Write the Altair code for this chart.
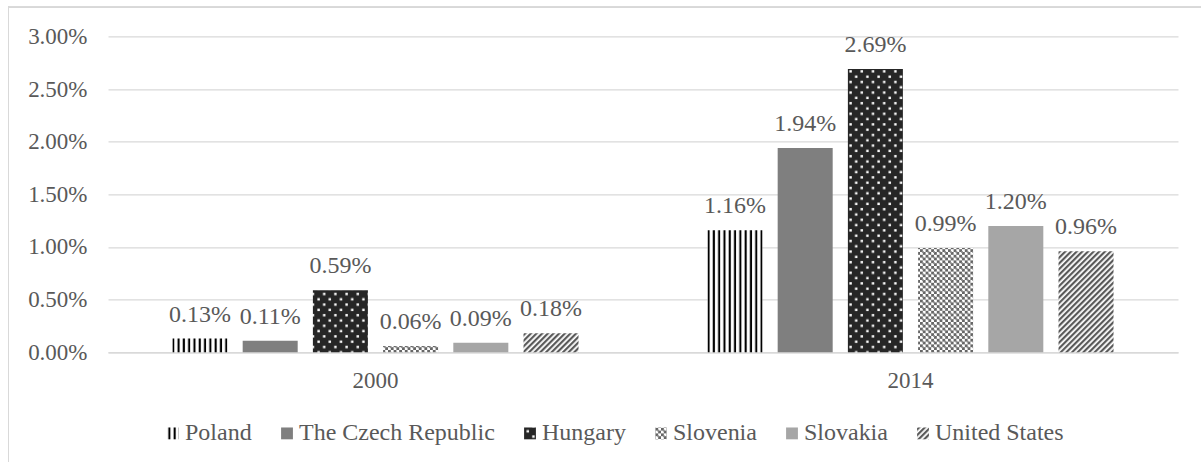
import altair as alt
import jinja2
import pandas as pd

# Share of GDP, by country, for the two survey years
years = ["2000", "2014"]
countries = ["Poland", "The Czech Republic", "Hungary", "Slovenia", "Slovakia", "United States"]
share_2000 = [0.0013, 0.0011, 0.0059, 0.0006, 0.0009, 0.0018]
share_2014 = [0.0116, 0.0194, 0.0269, 0.0099, 0.0120, 0.0096]

# Fill per country: plain greys or hatch patterns defined in the page
fills = [
    "url(#fill-poland)",
    "#7f7f7f",
    "url(#fill-hungary)",
    "url(#fill-slovenia)",
    "#a6a6a6",
    "url(#fill-us)",
]

rows = []
for year, values in zip(years, [share_2000, share_2014]):
    for country, v in zip(countries, values):
        rows.append({"year": year, "country": country, "share": v})
df = pd.DataFrame(rows)

FONT = "Times New Roman, Liberation Serif, DejaVu Serif, serif"
TEXT = "#595959"
GRID = "#d9d9d9"

x_enc = alt.X(
    "year:N",
    sort=years,
    title=None,
    scale=alt.Scale(paddingInner=0.241, paddingOuter=0.1205),
    axis=alt.Axis(
        labelAngle=0,
        domainColor=GRID,
        domainWidth=1.5,
        ticks=False,
        grid=False,
        labelPadding=17,
    ),
)
x_off = alt.XOffset("country:N", sort=countries, scale=alt.Scale(paddingInner=0.2165, paddingOuter=0))
y_enc = alt.Y(
    "share:Q",
    title=None,
    scale=alt.Scale(domain=[0, 0.03], nice=False),
    axis=alt.Axis(
        format=".2%",
        values=[0, 0.005, 0.01, 0.015, 0.02, 0.025, 0.03],
        domain=False,
        ticks=False,
        gridColor=GRID,
        gridWidth=1.2,
        labelPadding=21,
    ),
)

bars = alt.Chart(df).mark_bar(strokeWidth=0).encode(
    x=x_enc,
    xOffset=x_off,
    y=y_enc,
    color=alt.Color(
        "country:N",
        sort=countries,
        scale=alt.Scale(domain=countries, range=fills),
        legend=alt.Legend(
            title=None,
            orient="none",
            direction="horizontal",
            legendX=53,
            legendY=385,
            symbolType="square",
            symbolSize=140,
            symbolStrokeWidth=0,
            symbolOpacity=1,
            labelOffset=0,
            columnPadding=23,
            labelLimit=400,
            labelFont=FONT,
            labelFontSize=24,
            labelColor=TEXT,
            padding=0,
        ),
    ),
)

labels = alt.Chart(df).mark_text(
    baseline="alphabetic", dy=-17, font=FONT, fontSize=24, color=TEXT
).encode(
    x=x_enc,
    xOffset=x_off,
    y=y_enc,
    text=alt.Text("share:Q", format=".2%"),
)

# thin grey frame around the whole chart area
frame = alt.Chart(df).mark_rect(fill=None, stroke=GRID, strokeWidth=1).encode(
    x=alt.value(-99.5),
    x2=alt.value(1120),
    y=alt.value(-29.4),
    y2=alt.value(460),
)

chart = (
    alt.layer(frame, bars, labels)
    .properties(
        width=1070,
        height=315.9,
        padding={"left": 108, "top": 36.4, "right": 23, "bottom": 110},
        autosize=alt.AutoSizeParams(type="none"),
        background="white",
    )
    .configure_view(stroke=None)
    .configure_axis(labelFont=FONT, labelFontSize=23, labelColor=TEXT)
)

# Page template: the standard scripts plus the SVG hatch patterns used as fills
PAGE = jinja2.Template(
    """<!DOCTYPE html>
<html>
<head>
  <meta charset="utf-8">
  <style>
    body { margin: 0; }
    #{{ output_div }}.vega-embed { width: 100%; display: flex; }
  </style>
  <script type="text/javascript" src="{{ base_url }}/vega@{{ vega_version }}"></script>
  <script type="text/javascript" src="{{ base_url }}/vega-lite@{{ vegalite_version }}"></script>
  <script type="text/javascript" src="{{ base_url }}/vega-embed@{{ vegaembed_version }}"></script>
</head>
<body>
  <svg width="0" height="0" style="position:absolute">
    <defs>
      <pattern id="fill-poland" patternUnits="userSpaceOnUse" width="5.3" height="10">
        <rect x="0" y="0" width="5.3" height="10" fill="#ffffff"/>
        <rect x="0.6" y="0" width="2.1" height="10" fill="#000000"/>
      </pattern>
      <pattern id="fill-hungary" patternUnits="userSpaceOnUse" width="11.2" height="10.6">
        <rect x="0" y="0" width="11.2" height="10.6" fill="#262626"/>
        <rect x="2.2" y="2.0" width="2.4" height="2.4" fill="#ffffff"/>
        <rect x="7.8" y="7.3" width="2.4" height="2.4" fill="#ffffff"/>
      </pattern>
      <pattern id="fill-slovenia" patternUnits="userSpaceOnUse" width="5.6" height="5.6">
        <rect x="0" y="0" width="5.6" height="5.6" fill="#ffffff"/>
        <rect x="0" y="0" width="2.8" height="2.8" fill="#666666"/>
        <rect x="2.8" y="2.8" width="2.8" height="2.8" fill="#666666"/>
        <rect x="1.9" y="1.9" width="1.8" height="1.8" fill="#8c8c8c"/>
      </pattern>
      <pattern id="fill-us" patternUnits="userSpaceOnUse" width="4" height="4" patternTransform="rotate(45)">
        <rect x="0" y="0" width="4" height="4" fill="#ffffff"/>
        <rect x="0" y="0" width="2.2" height="4" fill="#595959"/>
      </pattern>
    </defs>
  </svg>
  <div id="{{ output_div }}"></div>
  <script>
    vegaEmbed("#{{ output_div }}", {{ spec }}, {{ embed_options }});
  </script>
</body>
</html>
"""
)

chart.save("out.html", embed_options={"renderer": "svg", "actions": False}, template=PAGE)
